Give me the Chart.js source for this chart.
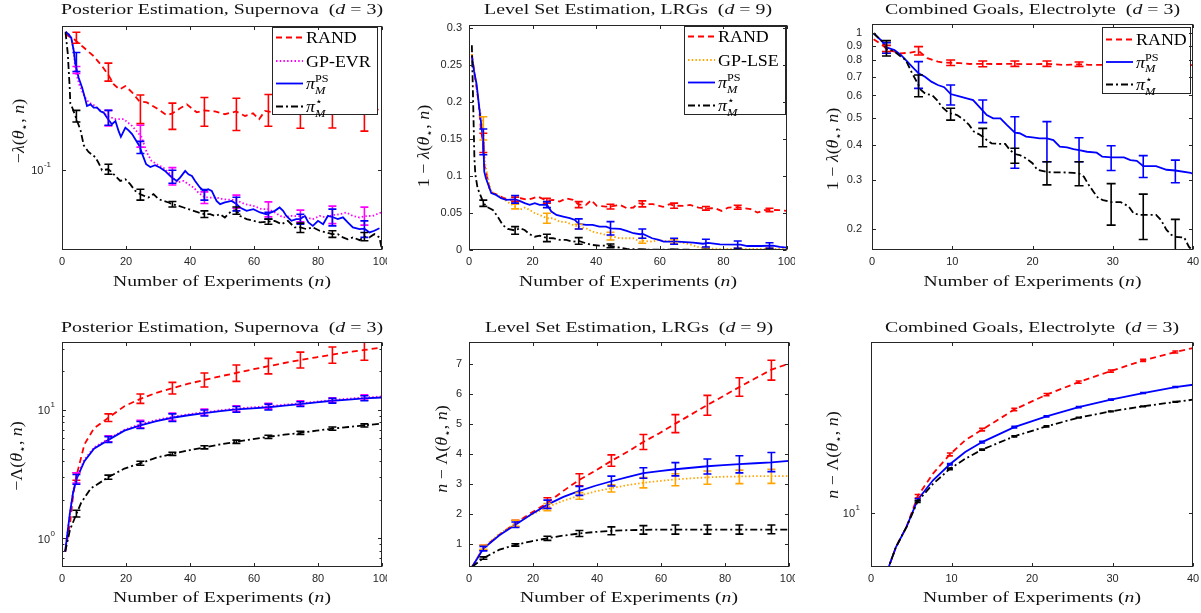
<!DOCTYPE html>
<html>
<head>
<meta charset="utf-8">
<script src="https://cdn.jsdelivr.net/npm/chart.js@4.4.1/dist/chart.umd.min.js"></script>
<style>
  html, body { margin: 0; padding: 0; background: #fff; }
  #wrap { position: relative; width: 1201px; height: 613px; overflow: hidden; background: #fff; }
  #wrap canvas { position: absolute; left: 0; top: 0; }
</style>
</head>
<body>
<div id="wrap"></div>
<script>
// ---------- data: top-left, posterior estimation (-lambda) ----------
const postBarX = [4.5, 14.5, 24.5, 34.5, 44.5, 54.5, 64.5, 74.5, 84.5, 94.5];

const postRandX = [1, 3.9, 6.8, 9.9, 12.5, 14.4, 16.2, 18, 19.8, 21.9, 24.2, 26.5, 29.6, 32.7, 34.5, 36.9, 39, 42.1, 44.4, 47.8, 50.9, 54.4, 57.2, 59.7, 61.6, 63.4, 66, 70, 74.5, 80, 84.5, 90, 94.5, 97, 100];
const postRandY = [0.79, 0.727, 0.644, 0.565, 0.486, 0.428, 0.368, 0.341, 0.359, 0.326, 0.284, 0.280, 0.256, 0.231, 0.237, 0.256, 0.272, 0.241, 0.248, 0.244, 0.234, 0.244, 0.228, 0.237, 0.217, 0.246, 0.241, 0.248, 0.237, 0.244, 0.241, 0.248, 0.234, 0.241, 0.26];
const postRandLo = [0.688, 0.387, 0.203, 0.186, 0.195, 0.183, 0.195, 0.189, 0.19, 0.181];
const postRandHi = [0.813, 0.508, 0.313, 0.277, 0.302, 0.298, 0.316, 0.30, 0.30, 0.295];

const postEvrX = [1.1, 2.1, 2.9, 3.7, 4.2, 5.5, 7, 8.4, 10, 12, 14.4, 16.7, 19.3, 21.9, 24.9, 26.5, 28, 29.6, 31.7, 33.3, 35.9, 38, 39.5, 41.1, 42.6, 44.5, 46.3, 48.3, 50.4, 54.4, 57.2, 59.8, 62.4, 64.5, 66.5, 69.1, 71.7, 74.3, 76.4, 78.4, 80.5, 82.6, 84.5, 86.8, 88.8, 90.9, 93, 94.5, 97.1, 99.7];
const postEvrY = [0.818, 0.785, 0.746, 0.609, 0.45, 0.3625, 0.307, 0.279, 0.268, 0.248, 0.227, 0.217, 0.217, 0.196, 0.165, 0.131, 0.115, 0.1095, 0.104, 0.0966, 0.083, 0.085, 0.0809, 0.077, 0.0713, 0.0664, 0.066, 0.066, 0.0644, 0.0635, 0.0598, 0.0582, 0.0554, 0.0554, 0.0527, 0.0488, 0.05, 0.0498, 0.0488, 0.0476, 0.05, 0.0488, 0.0506, 0.0513, 0.0527, 0.05, 0.0488, 0.0498, 0.05, 0.0527];
const postEvrLo = [0.435, 0.196, 0.142, 0.080, 0.0604, 0.0562, 0.0493, 0.0457, 0.0445, 0.0435];
const postEvrHi = [0.483, 0.248, 0.198, 0.104, 0.072, 0.0685, 0.0619, 0.0546, 0.058, 0.0571];

const postPsX = [1.1, 2.1, 2.9, 3.7, 4.2, 5.2, 6.3, 7.3, 7.8, 8.9, 9.9, 10.95, 12, 13, 14.4, 15.6, 16.7, 17.7, 18.4, 19.8, 20.8, 21.9, 22.9, 24.2, 25.5, 26.3, 27.6, 29.1, 30.7, 32.2, 33.3, 34.6, 35.9, 36.9, 38.5, 39.5, 40.6, 41.6, 43.1, 44.4, 45.7, 46.8, 48.3, 49.4, 50.9, 53, 54.4, 55.6, 57.7, 59.8, 61.9, 63.9, 66.5, 68, 69.1, 70.1, 71.7, 73.2, 74.3, 75.9, 77, 78.4, 80, 81.6, 83.1, 84.7, 86.2, 87.8, 89.3, 90.9, 93, 94.5, 96.1, 97.6, 99.2];
const postPsY = [0.818, 0.785, 0.746, 0.609, 0.498, 0.407, 0.35, 0.293, 0.265, 0.272, 0.259, 0.259, 0.245, 0.240, 0.217, 0.201, 0.211, 0.181, 0.166, 0.191, 0.183, 0.173, 0.160, 0.1445, 0.121, 0.1095, 0.105, 0.108, 0.104, 0.099, 0.094, 0.0886, 0.085, 0.0895, 0.099, 0.094, 0.0917, 0.085, 0.077, 0.0724, 0.075, 0.073, 0.0628, 0.0598, 0.0613, 0.0628, 0.0602, 0.0568, 0.054, 0.0554, 0.0527, 0.0513, 0.054, 0.0568, 0.054, 0.050, 0.0464, 0.0476, 0.0476, 0.050, 0.0453, 0.043, 0.0464, 0.0441, 0.05, 0.049, 0.0476, 0.0489, 0.0453, 0.042, 0.0409, 0.0412, 0.0389, 0.0399, 0.0415];
const postPsLo = [0.448, 0.198, 0.129, 0.0821, 0.0635, 0.054, 0.0476, 0.0441, 0.043, 0.0361];
const postPsHi = [0.597, 0.248, 0.155, 0.1, 0.0746, 0.0664, 0.0529, 0.0513, 0.0554, 0.0464];

const postStarX = [1.1, 1.8, 2.1, 2.4, 2.6, 3.2, 4.2, 5.8, 6.8, 8.3, 10.4, 11.5, 12.5, 14.4, 15.1, 16.7, 18.2, 19.8, 21.3, 22.9, 24.5, 25.5, 27, 28.6, 30.2, 31.7, 33.3, 34.5, 36.4, 38, 39.5, 41.1, 42.6, 44.5, 46.3, 47.8, 49.4, 50.9, 53, 54.5, 55.6, 57.7, 59.8, 61.9, 64.5, 66.5, 68.6, 70.6, 72.7, 74.5, 76.4, 78.4, 80.5, 82.6, 84.5, 86.2, 87.8, 89.3, 90.9, 93, 94.5, 96.1, 97.6, 99.2, 100];
const postStarY = [0.813, 0.589, 0.455, 0.353, 0.275, 0.259, 0.227, 0.183, 0.146, 0.132, 0.122, 0.111, 0.1, 0.1015, 0.099, 0.0917, 0.085, 0.0873, 0.0809, 0.0731, 0.0695, 0.068, 0.0661, 0.0695, 0.0644, 0.0628, 0.0613, 0.0598, 0.0582, 0.0568, 0.0554, 0.054, 0.0527, 0.0513, 0.0513, 0.05, 0.0513, 0.0488, 0.054, 0.0546, 0.05, 0.0476, 0.0464, 0.0453, 0.0458, 0.0464, 0.0441, 0.0464, 0.042, 0.042, 0.0409, 0.042, 0.0399, 0.0389, 0.0379, 0.0379, 0.0361, 0.0351, 0.0361, 0.0346, 0.0365, 0.0361, 0.0379, 0.0361, 0.0298];
const postStarLo = [0.208, 0.094, 0.0635, 0.0573, 0.0488, 0.0513, 0.0441, 0.0389, 0.0361, 0.0343];
const postStarHi = [0.248, 0.1095, 0.075, 0.0622, 0.054, 0.0573, 0.0476, 0.0448, 0.0399, 0.0389];

// ---------- data: top-middle, level set estimation (1 - lambda) ----------
const lseBarX = [4.5, 14.5, 24.5, 34.5, 44.5, 54.5, 64.5, 74.5, 84.5, 94.5];

const lseRandX = [0.9, 1.6, 2.4, 3, 3.8, 4.5, 4.8, 5.6, 6.4, 7.5, 9, 11.1, 12.7, 14.5, 16.3, 18.4, 20, 21.6, 24.5, 26.4, 28.5, 30.6, 32.7, 34.5, 36.8, 38.4, 40.2, 43.1, 44.5, 47.5, 49.6, 51.7, 53.2, 54.5, 57.9, 61, 63.1, 64.5, 67.4, 69.5, 72.2, 74.5, 77.3, 79.4, 81.5, 84.5, 88.6, 90.7, 92.8, 94.5, 97.7, 100];
const lseRandY = [0.265, 0.242, 0.219, 0.201, 0.16, 0.145, 0.115, 0.1017, 0.0837, 0.077, 0.0746, 0.0701, 0.0678, 0.0685, 0.07, 0.0678, 0.07, 0.0723, 0.0668, 0.0678, 0.0655, 0.07, 0.0678, 0.0615, 0.061, 0.0674, 0.0597, 0.0588, 0.0588, 0.061, 0.0566, 0.0575, 0.0634, 0.0624, 0.062, 0.0583, 0.062, 0.06, 0.0597, 0.0611, 0.0574, 0.0563, 0.0566, 0.0529, 0.0574, 0.058, 0.0552, 0.0506, 0.0539, 0.0543, 0.0539, 0.0529];
const lseRandLo = [0.132, 0.0655, 0.0634, 0.0574, 0.0555, 0.0583, 0.0566, 0.0539, 0.0552, 0.052];
const lseRandHi = [0.158, 0.0715, 0.0701, 0.0655, 0.062, 0.0665, 0.0634, 0.0588, 0.0606, 0.0566];

const lseGpX = [0.9, 1.6, 2.4, 3, 4.5, 5, 5.8, 7, 9, 10.6, 12.7, 14.5, 15.9, 17.5, 19.1, 20.7, 22.2, 24.5, 26.4, 28.5, 30.6, 32.7, 34.5, 36.8, 38.9, 41, 43.1, 44.5, 47.5, 49.6, 51.7, 53.8, 54.5, 57.6, 59.7, 62, 65, 67, 69.5, 72.7, 75, 80, 90, 100];
const lseGpY = [0.265, 0.242, 0.22, 0.2, 0.165, 0.12, 0.1, 0.079, 0.0746, 0.0701, 0.0634, 0.0588, 0.0543, 0.0574, 0.0543, 0.0498, 0.0475, 0.043, 0.043, 0.0384, 0.0376, 0.0339, 0.0317, 0.0294, 0.0248, 0.0227, 0.0204, 0.0188, 0.0159, 0.0159, 0.0159, 0.0113, 0.0125, 0.0113, 0.0136, 0.012, 0.0115, 0.01, 0.0077, 0.0031, 0.002, 0.0015, 0.0015, 0.0015];
const lseGpLo = [0.1488, 0.0556, 0.0362, 0.0285, 0.0136, 0.0091, 0.009, 0.0005, 0, 0];
const lseGpHi = [0.1804, 0.062, 0.0498, 0.0349, 0.024, 0.0159, 0.014, 0.004, 0.003, 0.003];

const lsePsX = [0.9, 1.6, 2.4, 3, 4.5, 4.8, 5.3, 7, 8.5, 10.1, 11.7, 14.5, 15.9, 17.5, 19.1, 20.7, 22.2, 24.5, 25.9, 27.5, 29.6, 31.7, 33.3, 34.5, 36.8, 38.9, 41, 43.1, 44.5, 47.5, 49.6, 51.7, 53.8, 54.5, 57.6, 59.7, 61.2, 63.3, 64.5, 70.5, 73.6, 75.2, 78.9, 85.4, 87.5, 91.7, 95.6, 97.7, 100];
const lsePsY = [0.262, 0.242, 0.224, 0.201, 0.146, 0.106, 0.0973, 0.077, 0.0746, 0.0701, 0.0678, 0.0686, 0.0665, 0.0634, 0.0611, 0.0634, 0.0611, 0.0615, 0.052, 0.0475, 0.0452, 0.043, 0.0407, 0.0353, 0.0339, 0.0339, 0.0316, 0.0316, 0.0294, 0.0285, 0.0258, 0.0227, 0.0213, 0.0222, 0.0159, 0.0136, 0.0113, 0.0113, 0.0118, 0.0099, 0.0085, 0.0095, 0.0077, 0.0072, 0.0054, 0.0054, 0.006, 0.0041, 0.0031];
const lsePsLo = [0.129, 0.0634, 0.0574, 0.0285, 0.0204, 0.0159, 0.0077, 0.0041, 0.0023, 0.0023];
const lsePsHi = [0.1638, 0.0737, 0.0655, 0.0421, 0.0384, 0.0285, 0.0159, 0.0145, 0.0122, 0.0099];

const lseStarX = [0.9, 1.7, 2, 2.7, 4.5, 5.4, 7.5, 9, 10.6, 12.2, 14.5, 15.9, 17.5, 19.1, 20.7, 22.2, 24.5, 26.4, 28.5, 30.6, 32.7, 34.5, 36.8, 38.9, 41, 43.1, 44.5, 47.5, 49.6, 51.7, 55, 60, 70, 80, 90, 100];
const lseStarY = [0.277, 0.124, 0.102, 0.0837, 0.0645, 0.0588, 0.0543, 0.0452, 0.0339, 0.0285, 0.0265, 0.0294, 0.0271, 0.0213, 0.018, 0.0194, 0.0163, 0.0159, 0.0136, 0.0136, 0.0113, 0.0122, 0.0091, 0.0068, 0.0058, 0.0058, 0.0056, 0.0031, 0.0014, 0.001, 0.0005, 0.0004, 0.0003, 0.0003, 0.0003, 0.0003];
const lseStarLo = [0.059, 0.0213, 0.0113, 0.0077, 0.0031, 0, 0, 0, 0, 0];
const lseStarHi = [0.0675, 0.0316, 0.0213, 0.0167, 0.0081, 0.001, 0.001, 0.001, 0.001, 0.001];

// ---------- data: top-right, combined goals (1 - lambda) ----------
const cmbBarX = [1.8, 5.8, 9.8, 13.8, 17.8, 21.8, 25.8, 29.8, 33.8, 37.8];

const cmbRandX = [0.2, 1.3, 1.8, 2.8, 3.6, 4.8, 5.8, 6.4, 6.9, 8.2, 9, 9.8, 11, 12.2, 13.8, 15, 16.4, 17.8, 19.2, 20.5, 21.8, 23.8, 25.8, 27, 28.5, 30, 32, 34, 36, 38, 40];
const cmbRandY = [0.952, 0.908, 0.88, 0.86, 0.848, 0.853, 0.865, 0.837, 0.815, 0.792, 0.786, 0.785, 0.782, 0.777, 0.778, 0.777, 0.777, 0.778, 0.776, 0.776, 0.778, 0.771, 0.775, 0.772, 0.772, 0.772, 0.771, 0.771, 0.77, 0.771, 0.77];
const cmbRandLo = [0.86, 0.837, 0.767, 0.76, 0.762, 0.762, 0.762, 0.755, 0.755, 0.755];
const cmbRandHi = [0.905, 0.896, 0.803, 0.796, 0.796, 0.796, 0.79, 0.79, 0.79, 0.79];

const cmbPsX = [0.2, 1.3, 1.8, 2.8, 3.6, 4.4, 5.2, 5.8, 6.6, 7.4, 8.2, 9, 9.8, 11, 11.8, 12.6, 13.8, 14.3, 15.1, 16, 16.8, 17.8, 18.4, 19.2, 20, 20.9, 21.8, 22.6, 23.4, 24.3, 25.1, 25.8, 26.8, 28, 28.7, 29.8, 31.4, 32.2, 33, 33.8, 35.4, 36.7, 37.8, 39.7, 40];
const cmbPsY = [1.0, 0.933, 0.89, 0.872, 0.837, 0.792, 0.75, 0.72, 0.7, 0.672, 0.654, 0.642, 0.607, 0.594, 0.586, 0.578, 0.53, 0.511, 0.497, 0.497, 0.471, 0.442, 0.44, 0.428, 0.425, 0.422, 0.422, 0.416, 0.394, 0.392, 0.386, 0.383, 0.378, 0.375, 0.363, 0.361, 0.361, 0.353, 0.351, 0.336, 0.336, 0.326, 0.324, 0.318, 0.315];
const cmbPsLo = [0.849, 0.636, 0.555, 0.48, 0.33, 0.348, 0.348, 0.324, 0.306, 0.293];
const cmbPsHi = [0.926, 0.792, 0.654, 0.578, 0.504, 0.484, 0.424, 0.397, 0.366, 0.353];

const cmbStarX = [0.2, 1.3, 1.8, 2.8, 3.6, 4.2, 4.6, 5, 5.8, 6.1, 6.7, 7.5, 8.1, 8.7, 9.4, 9.8, 10.6, 11.5, 12.1, 12.7, 13.3, 13.8, 14.3, 14.9, 16, 16.6, 17.2, 17.8, 18.4, 19.2, 20, 20.6, 21.8, 22.6, 23.8, 25.1, 25.8, 26.4, 27, 27.6, 28.2, 28.8, 29.8, 31, 32, 32.6, 33.4, 33.8, 35.4, 36, 36.7, 37.3, 37.8, 38.9, 39.5, 39.9];
const cmbStarY = [1.0, 0.933, 0.88, 0.86, 0.825, 0.803, 0.76, 0.72, 0.654, 0.628, 0.607, 0.602, 0.578, 0.547, 0.525, 0.518, 0.511, 0.49, 0.471, 0.446, 0.437, 0.428, 0.416, 0.405, 0.403, 0.403, 0.383, 0.371, 0.368, 0.358, 0.344, 0.326, 0.32, 0.319, 0.319, 0.318, 0.316, 0.308, 0.288, 0.272, 0.258, 0.254, 0.25, 0.25, 0.241, 0.228, 0.225, 0.225, 0.225, 0.216, 0.199, 0.191, 0.188, 0.187, 0.173, 0.169];
const cmbStarLo = [0.83, 0.594, 0.49, 0.394, 0.344, 0.288, 0.286, 0.207, 0.184, 0.16];
const cmbStarHi = [0.941, 0.71, 0.54, 0.458, 0.389, 0.348, 0.348, 0.291, 0.267, 0.217];

// ---------- data: bottom-left, posterior estimation (-Lambda) ----------
const postCumX = [1, 2.5, 3.5, 4.5, 7, 10, 14.5, 19.5, 24.5, 29.5, 34.5, 39.5, 44.5, 49.5, 54.5, 59.5, 64.5, 69.5, 74.5, 79.5, 84.5, 89.5, 94.5, 100];
const postCumRandY = [0.79, 1.3, 2.2, 3.05, 5.4, 7.2, 8.7, 10.7, 12.2, 13.6, 14.8, 16.0, 17.1, 18.3, 19.4, 20.7, 21.9, 23.2, 24.5, 25.7, 27.0, 28.2, 29.3, 30.6];
const postCumRandLo = [2.84, 8.14, 11.25, 13.3, 15.1, 16.7, 19.1, 21.2, 23.1, 24.4];
const postCumRandHi = [3.25, 9.33, 13.3, 16.4, 19.4, 22.4, 25.2, 28.2, 30.9, 33.8];
const postCumEvrY = [0.79, 1.6, 2.35, 2.95, 4.1, 5.1, 5.95, 7.0, 7.75, 8.35, 8.85, 9.25, 9.6, 9.95, 10.25, 10.5, 10.7, 11.0, 11.25, 11.6, 11.95, 12.25, 12.5, 12.75];
const postCumEvrLo = [2.7, 5.65, 7.25, 8.3, 9.1, 9.75, 10.2, 10.8, 11.45, 11.95];
const postCumEvrHi = [3.25, 6.3, 8.3, 9.45, 10.15, 10.8, 11.25, 11.8, 12.45, 13.1];
const postCumPsY = [0.79, 1.6, 2.3, 2.88, 4.0, 5.0, 5.85, 6.9, 7.6, 8.2, 8.7, 9.1, 9.45, 9.8, 10.1, 10.3, 10.5, 10.8, 11.1, 11.45, 11.8, 12.05, 12.3, 12.5];
const postCumPsLo = [2.64, 5.6, 7.17, 8.14, 8.97, 9.6, 10.0, 10.65, 11.3, 11.8];
const postCumPsHi = [3.15, 6.2, 8.14, 9.33, 10.0, 10.65, 11.1, 11.6, 12.3, 12.9];
const postCumStarX = [1, 2.5, 4.5, 6, 9, 14.5, 19.5, 24.5, 29.5, 34.5, 39.5, 44.5, 49.5, 54.5, 59.5, 64.5, 69.5, 74.5, 79.5, 84.5, 89.5, 94.5, 100];
const postCumStarY = [0.79, 1.17, 1.55, 1.9, 2.45, 3.0, 3.5, 3.85, 4.25, 4.56, 4.85, 5.12, 5.4, 5.66, 5.93, 6.18, 6.42, 6.63, 6.9, 7.15, 7.37, 7.58, 7.85];
const postCumStarLo = [1.47, 2.89, 3.71, 4.43, 4.98, 5.5, 6.0, 6.44, 6.95, 7.37];
const postCumStarHi = [1.66, 3.11, 3.99, 4.69, 5.27, 5.83, 6.36, 6.83, 7.37, 7.8];

// ---------- data: bottom-middle, level set estimation (n - Lambda) ----------
const lseCumX = [1, 4.5, 9.5, 14.5, 19.5, 24.5, 29.5, 34.5, 39.5, 44.5, 49.5, 54.5, 59.5, 64.5, 69.5, 74.5, 79.5, 84.5, 89.5, 94.5, 100];
const lseCumRandY = [0.25, 0.88, 1.32, 1.7, 2.05, 2.38, 2.78, 3.15, 3.45, 3.78, 4.08, 4.41, 4.7, 5.02, 5.33, 5.64, 5.94, 6.24, 6.53, 6.82, 7.02];
const lseCumRandLo = [0.8, 1.58, 2.2, 2.95, 3.6, 4.16, 4.72, 5.3, 5.93, 6.47];
const lseCumRandHi = [0.97, 1.8, 2.55, 3.35, 3.98, 4.66, 5.32, 5.96, 6.55, 7.13];
const lseCumGpY = [0.25, 0.9, 1.35, 1.7, 1.98, 2.24, 2.45, 2.62, 2.76, 2.87, 2.97, 3.05, 3.11, 3.16, 3.2, 3.23, 3.25, 3.26, 3.27, 3.27, 3.27];
const lseCumGpLo = [0.83, 1.6, 2.12, 2.5, 2.74, 2.88, 2.95, 3.0, 3.02, 3.03];
const lseCumGpHi = [0.97, 1.8, 2.36, 2.72, 2.98, 3.22, 3.35, 3.44, 3.47, 3.5];
const lseCumPsY = [0.25, 0.86, 1.3, 1.65, 2.0, 2.32, 2.58, 2.78, 2.95, 3.1, 3.24, 3.37, 3.44, 3.5, 3.55, 3.6, 3.64, 3.67, 3.7, 3.73, 3.78];
const lseCumPsLo = [0.78, 1.56, 2.19, 2.63, 2.94, 3.2, 3.28, 3.34, 3.38, 3.42];
const lseCumPsHi = [0.93, 1.74, 2.47, 2.93, 3.27, 3.55, 3.72, 3.84, 3.95, 4.06];
const lseCumStarY = [0.25, 0.54, 0.82, 0.98, 1.1, 1.2, 1.29, 1.36, 1.41, 1.45, 1.47, 1.48, 1.49, 1.49, 1.49, 1.49, 1.49, 1.49, 1.49, 1.49, 1.49];
const lseCumStarLo = [0.5, 0.94, 1.13, 1.26, 1.32, 1.34, 1.34, 1.34, 1.34, 1.35];
const lseCumStarHi = [0.58, 1.02, 1.27, 1.46, 1.58, 1.62, 1.64, 1.64, 1.64, 1.64];

// ---------- data: bottom-right, combined goals (n - Lambda) ----------
const cmbCumBarX = [5.8, 9.8, 13.8, 17.8, 21.8, 25.8, 29.8, 33.8, 37.8];
const cmbCumX = [2, 2.2, 3.1, 4.4, 5.8, 7.7, 9.8, 11.7, 13.8, 17.8, 21.8, 25.8, 29.8, 33.8, 37.8, 40];
const cmbCumRandY = [4.5, 4.89, 6.36, 8.27, 12.4, 16.7, 21.5, 25.9, 29.8, 38.8, 47.2, 55.7, 64.4, 74.1, 82.7, 87.2];
const cmbCumRandLo = [12.1, 21.1, 29.3, 38.2, 46.5, 54.9, 63.5, 73.1, 81.6];
const cmbCumRandHi = [12.7, 21.9, 30.3, 39.4, 47.9, 56.5, 65.3, 75.1, 83.8];
const cmbCumPsY = [4.5, 4.89, 6.36, 8.27, 11.87, 15.3, 18.9, 22.2, 25.3, 30.8, 35.5, 40.1, 44.2, 48.2, 52.2, 53.8];
const cmbCumPsLo = [11.7, 18.7, 25.0, 30.5, 35.2, 39.8, 43.9, 47.9, 51.9];
const cmbCumPsHi = [12.05, 19.1, 25.6, 31.1, 35.8, 40.4, 44.5, 48.5, 52.5];
const cmbCumStarY = [4.5, 4.89, 6.36, 8.27, 11.6, 14.6, 17.8, 20.3, 22.9, 27.3, 31.1, 34.9, 37.9, 40.5, 42.9, 44.2];
const cmbCumStarLo = [11.45, 17.6, 22.7, 27.1, 30.9, 34.7, 37.7, 40.3, 42.7];
const cmbCumStarHi = [11.75, 18.0, 23.1, 27.5, 31.3, 35.1, 38.1, 40.7, 43.1];

// ---------- tick labels ----------
const ticks100 = [0, 20, 40, 60, 80, 100];
const ticks40 = [0, 10, 20, 30, 40];
const lseTicks = [0, 0.05, 0.1, 0.15, 0.2, 0.25, 0.3];
const lseTickLabels = ['0', '0.05', '0.1', '0.15', '0.2', '0.25', '0.3'];
const cmbTicks = [0.2, 0.3, 0.4, 0.5, 0.6, 0.7, 0.8, 0.9, 1];
const cmbTickLabels = ['0.2', '0.3', '0.4', '0.5', '0.6', '0.7', '0.8', '0.9', '1'];
const lseCumTicks = [1, 2, 3, 4, 5, 6, 7];

// ---------- styling ----------
const SERIF = '"Liberation Serif", "DejaVu Serif", serif';
const SANS = '"Liberation Sans", "DejaVu Sans", sans-serif';
const INK = '#262626';
const RED = '#ff0000', MAG = '#ff00ff', BLUE = '#0000ff', BLK = '#000000', ORG = '#ffa500';
const DASH_RAND = [6, 4], DASH_DOT = [1.5, 2.2], DASH_STAR = [7, 3, 2, 3];
const LINE_W = 1.8;

// rich text segments
const R = t => ({ t: t });
const I = t => ({ t: t, it: true });
const STAR_SUB = { t: '\u22C6', s: 0.7, dy: 0.22 };
const theta = [I('\u03B8'), STAR_SUB];

const lblRand = [R('RAND')];
const lblEvr = [R('GP-EVR')];
const lblLse = [R('GP-LSE')];
const lblPs = [I('\u03C0'), { t: 'PS', s: 0.68, dy: -0.42, ov: true }, { t: 'M', it: true, s: 0.7, dy: 0.3 }];
const lblStar = [I('\u03C0'), { t: '\u22C6', s: 0.7, dy: -0.42, ov: true }, { t: 'M', it: true, s: 0.7, dy: 0.3 }];

const xlab = [R('Number of Experiments ('), I('n'), R(')')];
const titlePost = [R('Posterior Estimation, Supernova  ('), I('d'), R(' = 3)')];
const titleLse = [R('Level Set Estimation, LRGs  ('), I('d'), R(' = 9)')];
const titleCmb = [R('Combined Goals, Electrolyte  ('), I('d'), R(' = 3)')];
const ylabNegLam = [R('\u2212'), I('\u03BB'), R('(')].concat(theta, [R(', '), I('n'), R(')')]);
const ylabOneLam = [R('1 \u2212 '), I('\u03BB'), R('(')].concat(theta, [R(', '), I('n'), R(')')]);
const ylabNegCap = [R('\u2212\u039B(')].concat(theta, [R(', '), I('n'), R(')')]);
const ylabNCap = [I('n'), R(' \u2212 \u039B(')].concat(theta, [R(', '), I('n'), R(')')]);

function segFont(s, base) {
  return (s.it ? 'italic ' : '') + (base * (s.s || 1)).toFixed(2) + 'px ' + SERIF;
}
function richWidth(ctx, segs, base) {
  let x = 0, p = 0;
  segs.forEach(s => {
    ctx.font = segFont(s, base);
    const w = ctx.measureText(s.t).width;
    if (s.ov) { p = w; } else { x += Math.max(w, p); p = 0; }
  });
  return x;
}
// draws text made of segments; returns horizontal stretch used
function drawRich(ctx, segs, base, x0, y0, align, target, k) {
  const w = richWidth(ctx, segs, base);
  const sx = target ? target / w : (k || 1);
  const tw = w * sx;
  const start = align === 'center' ? -tw / 2 : (align === 'right' ? -tw : 0);
  ctx.save();
  ctx.translate(x0 + start, y0);
  ctx.scale(sx, 1);
  ctx.textAlign = 'left';
  ctx.textBaseline = 'alphabetic';
  let x = 0, p = 0;
  segs.forEach(s => {
    ctx.font = segFont(s, base);
    const sw = ctx.measureText(s.t).width;
    ctx.fillText(s.t, x, (s.dy || 0) * base);
    if (s.ov) { p = sw; } else { x += Math.max(sw, p); p = 0; }
  });
  ctx.restore();
  return sx;
}

const TEXT_K = 1.12;

function panelPlugin(p) {
  return {
    id: 'panel',
    afterDatasetsDraw(chart) {
      const ctx = chart.ctx, a = chart.chartArea;
      const xs = chart.scales.x, ys = chart.scales.y;
      ctx.save();
      ctx.beginPath();
      ctx.rect(a.left, a.top, a.right - a.left, a.bottom - a.top);
      ctx.clip();
      ctx.lineWidth = 1.6;
      ctx.setLineDash([]);
      p.series.forEach(s => {
        ctx.strokeStyle = s.color;
        ctx.beginPath();
        p.barX.forEach((bx, i) => {
          const x = xs.getPixelForValue(bx);
          const y1 = ys.getPixelForValue(s.lo[i]);
          const y2 = ys.getPixelForValue(s.hi[i]);
          ctx.moveTo(x, y1); ctx.lineTo(x, y2);
          ctx.moveTo(x - p.cap, y1); ctx.lineTo(x + p.cap, y1);
          ctx.moveTo(x - p.cap, y2); ctx.lineTo(x + p.cap, y2);
        });
        ctx.stroke();
      });
      ctx.restore();
    },
    afterDraw(chart) {
      const ctx = chart.ctx, a = chart.chartArea;
      const xs = chart.scales.x, ys = chart.scales.y;
      ctx.save();
      ctx.beginPath();
      ctx.rect(p.clip[0], 0, p.clip[1] - p.clip[0], 613);
      ctx.clip();

      // legend box
      if (p.legend) {
        const [bx0, by0, bx1, by1] = p.legend;
        ctx.fillStyle = '#fff';
        ctx.fillRect(bx0, by0, bx1 - bx0, by1 - by0);
        ctx.strokeStyle = INK;
        ctx.lineWidth = 1;
        ctx.setLineDash([]);
        ctx.strokeRect(bx0 + 0.5, by0 + 0.5, bx1 - bx0 - 1, by1 - by0 - 1);
        const offs = p.series.length === 4 ? [10.5, 34, 56.5, 79.5] : [12.5, 35, 57.5];
        p.series.forEach((s, i) => {
          const y = by0 + offs[i];
          ctx.strokeStyle = s.color;
          ctx.lineWidth = LINE_W;
          ctx.setLineDash(s.dash);
          ctx.beginPath();
          ctx.moveTo(bx0 + 4, y); ctx.lineTo(bx0 + 31, y);
          ctx.stroke();
          ctx.setLineDash([]);
          ctx.fillStyle = '#000';
          drawRich(ctx, s.label, 16, bx0 + 34, y + 5.5, 'left', null, TEXT_K);
        });
      }

      // box
      const L = Math.round(a.left) + 0.5, T = Math.round(a.top) + 0.5;
      const Rt = Math.round(a.right) - 0.5, B = Math.round(a.bottom) - 0.5;
      ctx.strokeStyle = INK;
      ctx.lineWidth = 1;
      ctx.setLineDash([]);
      ctx.strokeRect(L, T, Rt - L, B - T);

      // ticks
      const tl = 3.5;
      ctx.beginPath();
      p.xTicks.forEach(v => {
        const x = Math.round(xs.getPixelForValue(v)) + 0.5;
        ctx.moveTo(x, B); ctx.lineTo(x, B - tl);
        ctx.moveTo(x, T); ctx.lineTo(x, T + tl);
      });
      p.yTicks.forEach(v => {
        const y = Math.round(ys.getPixelForValue(v)) + 0.5;
        ctx.moveTo(L, y); ctx.lineTo(L + tl, y);
        ctx.moveTo(Rt, y); ctx.lineTo(Rt - tl, y);
      });
      (p.yMinor || []).forEach(v => {
        const y = Math.round(ys.getPixelForValue(v)) + 0.5;
        ctx.moveTo(L, y); ctx.lineTo(L + 2, y);
        ctx.moveTo(Rt, y); ctx.lineTo(Rt - 2, y);
      });
      ctx.stroke();

      // tick labels
      ctx.fillStyle = INK;
      ctx.font = '11px ' + SANS;
      ctx.textAlign = 'center';
      ctx.textBaseline = 'middle';
      p.xTicks.forEach(v => ctx.fillText(String(v), xs.getPixelForValue(v), a.bottom + 12));
      ctx.textAlign = 'right';
      p.yTicks.forEach((v, i) => {
        const y = ys.getPixelForValue(v);
        const lab = p.yLabels[i];
        const xr = a.left - p.yGap;
        if (Array.isArray(lab)) {
          ctx.font = '8px ' + SANS;
          const ew = ctx.measureText(lab[1]).width;
          ctx.fillText(lab[1], xr, y - 5);
          ctx.font = '11px ' + SANS;
          ctx.fillText(lab[0], xr - ew - 0.5, y + 1);
        } else {
          ctx.font = '11px ' + SANS;
          ctx.fillText(lab, xr, y);
        }
      });

      // title and axis labels
      ctx.fillStyle = '#111';
      const cx = (a.left + a.right) / 2;
      drawRich(ctx, p.title, 15, cx, p.titleY, 'center', p.titleW);
      drawRich(ctx, xlab, 15.5, cx, p.xlabY, 'center', p.xlabW);
      ctx.save();
      ctx.translate(p.ylab[1], p.ylab[2]);
      ctx.rotate(-Math.PI / 2);
      drawRich(ctx, p.ylab[0], 16, 0, 5, 'center', null, TEXT_K);
      ctx.restore();
      ctx.restore();
    }
  };
}

function makePanel(p) {
  const c = document.createElement('canvas');
  c.width = 1201; c.height = 613;
  document.getElementById('wrap').appendChild(c);
  const datasets = p.series.slice().reverse().map(s => ({
    data: s.x.map((x, i) => ({ x: x, y: s.y[i] })),
    borderColor: s.color,
    borderWidth: LINE_W,
    borderDash: s.dash,
    pointRadius: 0,
    fill: false,
    tension: 0
  }));
  new Chart(c, {
    type: 'line',
    data: { datasets: datasets },
    options: {
      responsive: false,
      animation: false,
      devicePixelRatio: 1,
      events: [],
      layout: { padding: { left: p.area[0], top: p.area[1], right: 1201 - p.area[2], bottom: 613 - p.area[3] } },
      plugins: { legend: { display: false }, tooltip: { enabled: false }, title: { display: false } },
      scales: {
        x: { type: 'linear', display: false, min: p.xRange[0], max: p.xRange[1] },
        y: { type: p.yType, display: false, min: p.yRange[0], max: p.yRange[1] }
      }
    },
    plugins: [panelPlugin(p)]
  });
}

const S = (label, x, y, lo, hi, color, dash) => ({ label, x, y, lo, hi, color, dash });

makePanel({
  area: [62, 26, 382, 250], clip: [0, 387], xRange: [0, 100], xTicks: ticks100,
  yType: 'logarithmic', yRange: [0.0298, 0.893], yTicks: [0.1], yLabels: [['10', '-1']], yGap: 11,
  title: titlePost, titleY: 13.5, titleW: 322, xlabY: 286, xlabW: 218, ylab: [ylabNegLam, 19, 131],
  legend: [272, 27, 378, 115], barX: postBarX, cap: 4,
  series: [
    S(lblRand, postRandX, postRandY, postRandLo, postRandHi, RED, DASH_RAND),
    S(lblEvr, postEvrX, postEvrY, postEvrLo, postEvrHi, MAG, DASH_DOT),
    S(lblPs, postPsX, postPsY, postPsLo, postPsHi, BLUE, []),
    S(lblStar, postStarX, postStarY, postStarLo, postStarHi, BLK, DASH_STAR)
  ]
});

makePanel({
  area: [469, 25, 787, 250], clip: [400, 795], xRange: [0, 100], xTicks: ticks100,
  yType: 'linear', yRange: [0, 0.3045], yTicks: lseTicks, yLabels: lseTickLabels, yGap: 7,
  title: titleLse, titleY: 13.5, titleW: 288, xlabY: 286, xlabW: 218, ylab: [ylabOneLam, 424, 146],
  legend: [684, 26, 786, 115], barX: lseBarX, cap: 4,
  series: [
    S(lblRand, lseRandX, lseRandY, lseRandLo, lseRandHi, RED, DASH_RAND),
    S(lblLse, lseGpX, lseGpY, lseGpLo, lseGpHi, ORG, DASH_DOT),
    S(lblPs, lsePsX, lsePsY, lsePsLo, lsePsHi, BLUE, []),
    S(lblStar, lseStarX, lseStarY, lseStarLo, lseStarHi, BLK, DASH_STAR)
  ]
});

makePanel({
  area: [872, 24, 1193, 250], clip: [800, 1201], xRange: [0, 40], xTicks: ticks40,
  yType: 'logarithmic', yRange: [0.1687, 1.079], yTicks: cmbTicks, yLabels: cmbTickLabels, yGap: 10,
  title: titleCmb, titleY: 13.5, titleW: 295, xlabY: 286, xlabW: 218, ylab: [ylabOneLam, 833, 149],
  legend: [1102, 27, 1191, 94], barX: cmbBarX, cap: 4.5,
  series: [
    S(lblRand, cmbRandX, cmbRandY, cmbRandLo, cmbRandHi, RED, DASH_RAND),
    S(lblPs, cmbPsX, cmbPsY, cmbPsLo, cmbPsHi, BLUE, []),
    S(lblStar, cmbStarX, cmbStarY, cmbStarLo, cmbStarHi, BLK, DASH_STAR)
  ]
});

makePanel({
  area: [62, 342, 382, 567], clip: [0, 387], xRange: [0, 100], xTicks: ticks100,
  yType: 'logarithmic', yRange: [0.648, 33.8], yTicks: [1, 10], yLabels: [['10', '0'], ['10', '1']], yGap: 7,
  yMinor: [0.7, 0.8, 0.9, 2, 3, 4, 5, 6, 7, 8, 9, 20, 30],
  title: titlePost, titleY: 331.5, titleW: 322, xlabY: 601.5, xlabW: 218, ylab: [ylabNegCap, 17, 456],
  legend: null, barX: postBarX, cap: 4,
  series: [
    S(lblRand, postCumX, postCumRandY, postCumRandLo, postCumRandHi, RED, DASH_RAND),
    S(lblEvr, postCumX, postCumEvrY, postCumEvrLo, postCumEvrHi, MAG, DASH_DOT),
    S(lblPs, postCumX, postCumPsY, postCumPsLo, postCumPsHi, BLUE, []),
    S(lblStar, postCumStarX, postCumStarY, postCumStarLo, postCumStarHi, BLK, DASH_STAR)
  ]
});

makePanel({
  area: [469, 342, 789, 567], clip: [400, 795], xRange: [0, 100], xTicks: ticks100,
  yType: 'linear', yRange: [0.243, 7.74], yTicks: lseCumTicks, yLabels: lseCumTicks.map(String), yGap: 7,
  title: titleLse, titleY: 331.5, titleW: 288, xlabY: 601.5, xlabW: 218, ylab: [ylabNCap, 442, 449],
  legend: null, barX: lseBarX, cap: 4,
  series: [
    S(lblRand, lseCumX, lseCumRandY, lseCumRandLo, lseCumRandHi, RED, DASH_RAND),
    S(lblLse, lseCumX, lseCumGpY, lseCumGpLo, lseCumGpHi, ORG, DASH_DOT),
    S(lblPs, lseCumX, lseCumPsY, lseCumPsLo, lseCumPsHi, BLUE, []),
    S(lblStar, lseCumX, lseCumStarY, lseCumStarLo, lseCumStarHi, BLK, DASH_STAR)
  ]
});

makePanel({
  area: [871, 342, 1193, 567], clip: [800, 1201], xRange: [0, 40], xTicks: ticks40,
  yType: 'logarithmic', yRange: [4.89, 94.4], yTicks: [10], yLabels: [['10', '1']], yGap: 11,
  title: titleCmb, titleY: 331.5, titleW: 294, xlabY: 601.5, xlabW: 218, ylab: [ylabNCap, 833, 455],
  legend: null, barX: cmbCumBarX, cap: 3,
  series: [
    S(lblRand, cmbCumX, cmbCumRandY, cmbCumRandLo, cmbCumRandHi, RED, DASH_RAND),
    S(lblPs, cmbCumX, cmbCumPsY, cmbCumPsLo, cmbCumPsHi, BLUE, []),
    S(lblStar, cmbCumX, cmbCumStarY, cmbCumStarLo, cmbCumStarHi, BLK, DASH_STAR)
  ]
});
</script>
</body>
</html>
